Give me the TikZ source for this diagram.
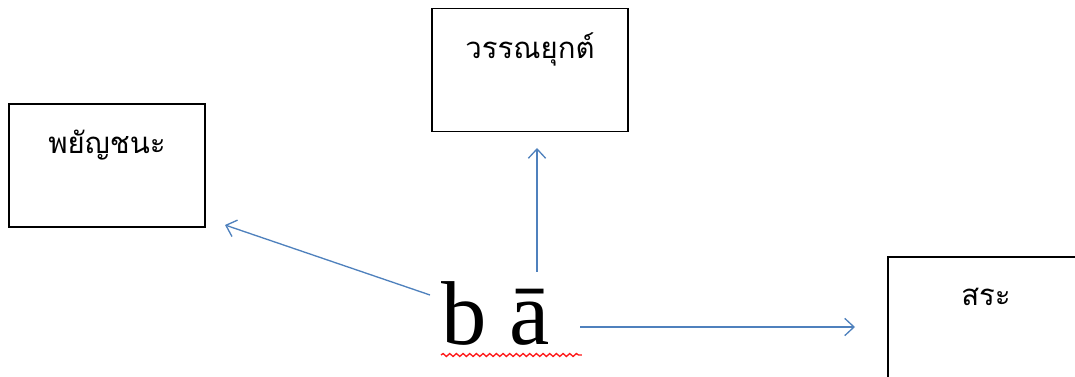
\documentclass[tikz,border=0pt]{standalone}
\usepackage{fontspec}
\setmainfont{Liberation Serif}
\newfontfamily\thaifont[Script=Thai]{Loma}
\usetikzlibrary{arrows.meta,positioning,decorations.pathmorphing}
\definecolor{linkblue}{RGB}{79,129,189}
\tikzset{
  box/.style={draw, line width=1.1pt, minimum width=147pt, minimum height=92pt, inner sep=0pt},
  thailabel/.style={font=\thaifont\fontsize{22}{26}\selectfont, inner sep=0pt},
  link/.style={linkblue, line width=1pt, -{Straight Barb[length=7pt,width=13pt,line width=1pt]}},
}
\begin{document}
\begin{tikzpicture}[x=0.75pt, y=-0.75pt]
\useasboundingbox (0,0) rectangle (1075,377);
% boxes
\node[box] (consonant) at (107,165.5) {};
\node[box] (tone) at (530,70) {};
\node[box] (vowel) at (986,318.5) {};
\node[thailabel] (consonantlabel) at ([yshift=-31pt]consonant.north) {พยัญชนะ};
\node[thailabel] (tonelabel) at ([yshift=-31pt]tone.north) {วรรณยุกต์};
\node[thailabel] (vowellabel) at ([yshift=-30pt]vowel.north) {สระ};
% the syllable
\node[font=\fontsize{68}{74}\selectfont, inner sep=0pt, anchor=base west] (word) at (441,345) {b ā};
\draw[red!90, line width=1pt, decorate, decoration={snake, amplitude=1.1pt, segment length=5pt}]
  ([yshift=-7.5pt]word.base west) -- ([xshift=24pt,yshift=-7.5pt]word.base east);
% arrow ends
\coordinate (consonantend) at (225,225);
\coordinate (toneend) at (537,148);
\coordinate (vowelend) at (855,327);
\draw[link] (430,295) -- (consonantend);
\draw[link] (537,272) -- (toneend);
\draw[link] (580,327) -- (vowelend);
\end{tikzpicture}
\end{document}
